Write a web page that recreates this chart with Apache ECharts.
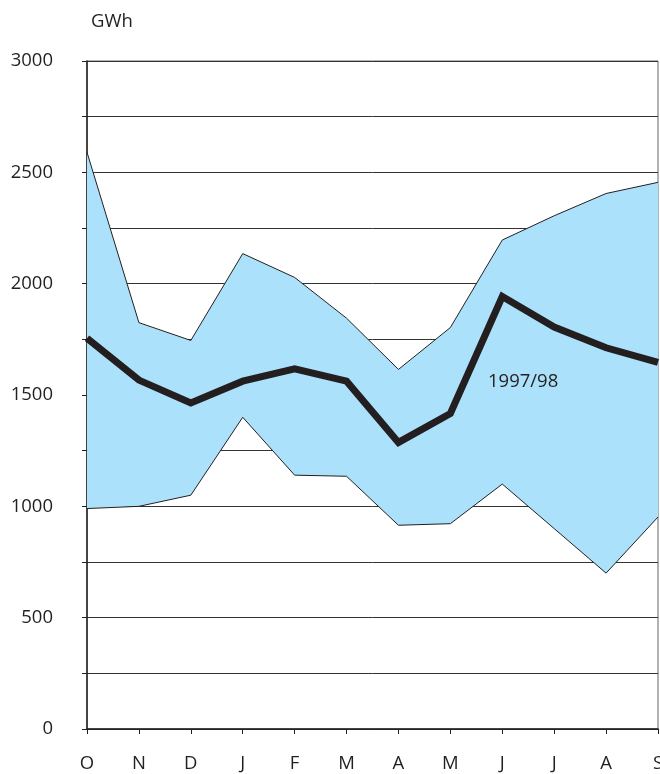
<!DOCTYPE html>
<html>
<head>
<meta charset="utf-8">
<script src="https://cdn.jsdelivr.net/npm/echarts@6/dist/echarts.min.js"></script>
<style>
  html, body { margin: 0; padding: 0; background: #fff; }
  #chart { width: 660px; height: 774px; }
</style>
</head>
<body>
<div id="chart"></div>
<script>
// months, October to September
const months = ['O', 'N', 'D', 'J', 'F', 'M', 'A', 'M', 'J', 'J', 'A', 'S'];
// lowest and highest monthly production (band)
const bandLow = [990, 1000, 1050, 1400, 1140, 1135, 915, 922, 1100, 900, 700, 952];
const bandHigh = [2590, 1825, 1745, 2135, 2028, 1845, 1615, 1803, 2196, 2305, 2405, 2455];
// 1997/98 production
const year9798 = [1755, 1567, 1464, 1562, 1617, 1562, 1287, 1417, 1942, 1805, 1712, 1646];
const yTicks = [0, 500, 1000, 1500, 2000, 2500, 3000];

const bandDiff = bandHigh.map((v, i) => v - bandLow[i]);

const chart = echarts.init(document.getElementById('chart'));
const fontFam = 'Open Sans';
const ink = '#231f20';

const option = {
    animation: false,
    title: {
        text: 'GWh',
        left: 86,
        top: 7,
        textStyle: { fontFamily: fontFam, fontSize: 18.5, fontWeight: 'normal', color: ink }
    },
    grid: {
        left: 87, right: 2, top: 61, bottom: 45,
        outerBoundsMode: 'none',
        containLabel: false,
        show: true, borderColor: '#666', borderWidth: 1
    },
    graphic: [{
        type: 'text',
        left: 488, top: 372,
        z: 100,
        style: { text: '1997/98', fontFamily: fontFam, fontSize: 18.5, fill: ink }
    }],
    xAxis: {
        type: 'category',
        data: months,
        boundaryGap: false,
        axisLine: { lineStyle: { color: ink, width: 1.5 } },
        axisTick: { show: true, length: 5, alignWithLabel: true, lineStyle: { color: ink } },
        axisLabel: { margin: 25, fontFamily: fontFam, fontSize: 18.5, color: ink, interval: 0 },
        splitLine: { show: false }
    },
    yAxis: {
        type: 'value',
        min: 0, max: 3000, interval: 250,
        axisLine: { show: true, lineStyle: { color: ink, width: 1.5 } },
        axisTick: { show: true, length: 5, inside: false, lineStyle: { color: ink } },
        axisLabel: {
            margin: 34, fontFamily: fontFam, fontSize: 18.5, color: ink,
            formatter: v => (yTicks.indexOf(v) >= 0 ? String(v) : '')
        },
        splitLine: { lineStyle: { color: '#333', width: 1 } }
    },
    series: [
        {
            name: 'low',
            type: 'line',
            stack: 'band',
            data: bandLow,
            symbol: 'none',
            lineStyle: { color: ink, width: 1 },
            z: 3
        },
        {
            name: 'band',
            type: 'line',
            stack: 'band',
            data: bandDiff,
            symbol: 'none',
            lineStyle: { color: ink, width: 1 },
            areaStyle: { color: '#abe1fa', opacity: 1 },
            z: 2
        },
        {
            name: '1997/98',
            type: 'line',
            data: year9798,
            symbol: 'none',
            lineStyle: { color: ink, width: 7, join: 'miter' },
            z: 4
        }
    ]
};

chart.setOption(option);
</script>
</body>
</html>
